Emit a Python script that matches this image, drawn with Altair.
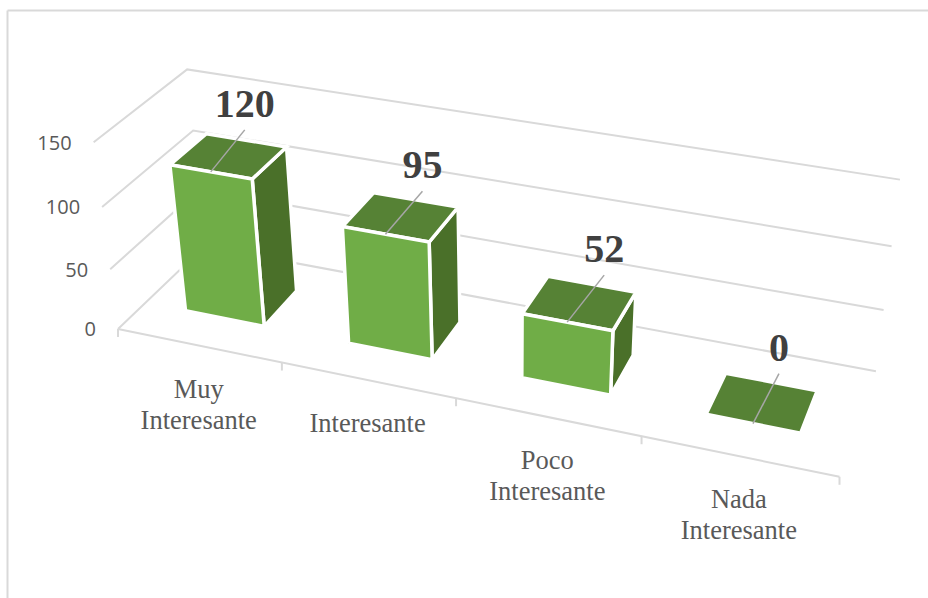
import altair as alt
import numpy as np
import pandas as pd

CATEGORIES = ["Muy\nInteresante", "Interesante", "Poco\nInteresante", "Nada\nInteresante"]
VALUES = [120, 95, 52, 0]
Y_TICKS = [0, 50, 100, 150]
Y_MAX = 150

FRONT_COLOR = "#70AD47"
TOP_COLOR = "#568235"
SIDE_COLOR = "#4A7029"
GRID_COLOR = "#D9D9D9"
LEADER_COLOR = "#A6A6A6"
VALUE_COLOR = "#404040"
TEXT_COLOR = "#595959"

# Camera anchors for the 3D box: (along categories, depth, height) -> page position
CAMERA_ANCHORS = [
    (0, 0, 0, 118, 330), (1, 0, 0, 840, 477), (0.25, 0, 0, 282, 363),
    (0.5, 0, 0, 456, 398), (0.75, 0, 0, 641, 435),
    (0, 1, 0, 205, 246), (1, 1, 0, 876, 372),
    (0, 0, 1, 94, 142), (0, 1, 1, 187, 70), (1, 1, 1, 900, 180),
    (0, 1, 2 / 3, 193, 130), (1, 1, 2 / 3, 892, 246), (1, 1, 1 / 3, 883, 310),
    (0, 1, 1 / 3, 199, 189), (0, 0, 2 / 3, 102, 207), (0, 0, 1 / 3, 110, 269),
]


def fit_camera(anchors):
    rows, rhs = [], []
    for u, v, h, px, py in anchors:
        rows.append([u, v, h, 1, 0, 0, 0, 0, -px * u, -px * v, -px * h])
        rhs.append(px)
        rows.append([0, 0, 0, 0, u, v, h, 1, -py * u, -py * v, -py * h])
        rhs.append(py)
    sol = np.linalg.lstsq(np.array(rows, float), np.array(rhs, float), rcond=None)[0]
    return np.append(sol, 1.0).reshape(3, 4)


CAMERA = fit_camera(CAMERA_ANCHORS)


def project(u, v, value):
    p = CAMERA @ np.array([u, v, value / Y_MAX, 1.0])
    return float(p[0] / p[2]), float(p[1] / p[2])


N = len(CATEGORIES)
BAR_SHARE = 0.49   # bar width as a share of its category slot
DEPTH_NEAR, DEPTH_FAR = 0.30, 0.71

# Leader-line ends and value-label placement relative to each bar's top front edge
LEADER_DX = [34, 37, 37, 26]
LEADER_DY = [-42, -43, -47, -50]
LABEL_GAP = 13
TICK_LEN = 8
CATEGORY_DROP = 52
Y_LABEL_GAP = 22
Y_LABEL_DROP = 1.5

polys = []
for k, (cat, val) in enumerate(zip(CATEGORIES, VALUES)):
    u0 = (k + 0.5 - BAR_SHARE / 2) / N
    u1 = (k + 0.5 + BAR_SHARE / 2) / N
    faces = {
        "top": [(u0, DEPTH_NEAR, val), (u1, DEPTH_NEAR, val), (u1, DEPTH_FAR, val), (u0, DEPTH_FAR, val)],
    }
    if val > 0:
        faces["side"] = [(u1, DEPTH_NEAR, 0), (u1, DEPTH_FAR, 0), (u1, DEPTH_FAR, val), (u1, DEPTH_NEAR, val)]
        faces["front"] = [(u0, DEPTH_NEAR, 0), (u1, DEPTH_NEAR, 0), (u1, DEPTH_NEAR, val), (u0, DEPTH_NEAR, val)]
    for face, corners in faces.items():
        for i, c in enumerate(corners + corners[:1]):
            x, y = project(*c)
            polys.append({"bar": k, "face": face, "i": i, "x": x, "y": y})
polys = pd.DataFrame(polys)

grid = []
for t in Y_TICKS:
    for i, (u, v) in enumerate([(0, 0), (0, 1), (1, 1)]):
        x, y = project(u, v, t)
        grid.append({"line": f"wall{t}", "i": i, "x": x, "y": y})
for i, u in enumerate([0, 1]):
    x, y = project(u, 0, 0)
    grid.append({"line": "floor", "i": i, "x": x, "y": y})
for k in range(N + 1):
    x, y = project(k / N, 0, 0)
    grid.append({"line": f"tick{k}", "i": 0, "x": x, "y": y})
    grid.append({"line": f"tick{k}", "i": 1, "x": x, "y": y + TICK_LEN})
grid = pd.DataFrame(grid)

leaders, value_labels, cat_labels = [], [], []
for k, (cat, val) in enumerate(zip(CATEGORIES, VALUES)):
    x, y = project((k + 0.5) / N, DEPTH_NEAR, val)
    ex, ey = x + LEADER_DX[k], y + LEADER_DY[k]
    leaders += [{"bar": k, "i": 0, "x": x, "y": y}, {"bar": k, "i": 1, "x": ex, "y": ey}]
    value_labels.append({"x": ex, "y": ey - LABEL_GAP, "label": str(val)})
    bx, by = project((k + 0.5) / N, 0, 0)
    cat_labels.append({"x": bx, "y": by + CATEGORY_DROP, "label": cat})
leaders = pd.DataFrame(leaders)
value_labels = pd.DataFrame(value_labels)
cat_labels = pd.DataFrame(cat_labels)

y_labels = []
for t in Y_TICKS:
    x, y = project(0, 0, t)
    y_labels.append({"x": x - Y_LABEL_GAP, "y": y + Y_LABEL_DROP, "label": str(t)})
y_labels = pd.DataFrame(y_labels)

X = alt.X("x:Q", scale=alt.Scale(domain=[0, 928], nice=False, zero=False), axis=None)
Y = alt.Y("y:Q", scale=alt.Scale(domain=[598, 0], nice=False, zero=False), axis=None)

frame = alt.layer(
    alt.Chart(pd.DataFrame({"a": [0]})).mark_rule(color=GRID_COLOR, strokeWidth=2).encode(
        x=alt.value(7.5), y=alt.value(10.5), y2=alt.value(598)),
    alt.Chart(pd.DataFrame({"a": [0]})).mark_rule(color=GRID_COLOR, strokeWidth=2).encode(
        x=alt.value(7.5), x2=alt.value(928), y=alt.value(10.5)),
)

grid_layer = alt.Chart(grid).mark_line(color=GRID_COLOR, strokeWidth=2).encode(
    x=X, y=Y, detail="line:N", order="i:Q")


def face_layer(face, color):
    return (
        alt.Chart(polys[polys.face == face])
        .mark_line(fill=color, stroke="#FFFFFF", strokeWidth=3.5, strokeJoin="miter")
        .encode(x=X, y=Y, detail="bar:N", order="i:Q")
    )


leader_layer = alt.Chart(leaders).mark_line(color=LEADER_COLOR, strokeWidth=1.5).encode(
    x=X, y=Y, detail="bar:N", order="i:Q")

value_layer = alt.Chart(value_labels).mark_text(
    font="Liberation Serif", fontWeight="bold", fontSize=40, color=VALUE_COLOR, baseline="alphabetic"
).encode(x=X, y=Y, text="label:N")

category_layer = alt.Chart(cat_labels).mark_text(
    font="Liberation Serif", fontSize=26.5, color=TEXT_COLOR, baseline="alphabetic",
    lineBreak="\n", lineHeight=31, align="center"
).encode(x=X, y=Y, text="label:N")

ylabel_layer = alt.Chart(y_labels).mark_text(
    font="Open Sans", fontSize=20, color=TEXT_COLOR, baseline="middle", align="right"
).encode(x=X, y=Y, text="label:N")

chart = alt.layer(
    frame, grid_layer, ylabel_layer, category_layer,
    face_layer("side", SIDE_COLOR), face_layer("top", TOP_COLOR), face_layer("front", FRONT_COLOR),
    leader_layer, value_layer,
).properties(
    width=928, height=598, padding=0, autosize=alt.AutoSizeParams(type="none"), background="#FFFFFF"
).configure_view(stroke=None)

chart.save("out.html", embed_options={"renderer": "svg", "actions": False})
